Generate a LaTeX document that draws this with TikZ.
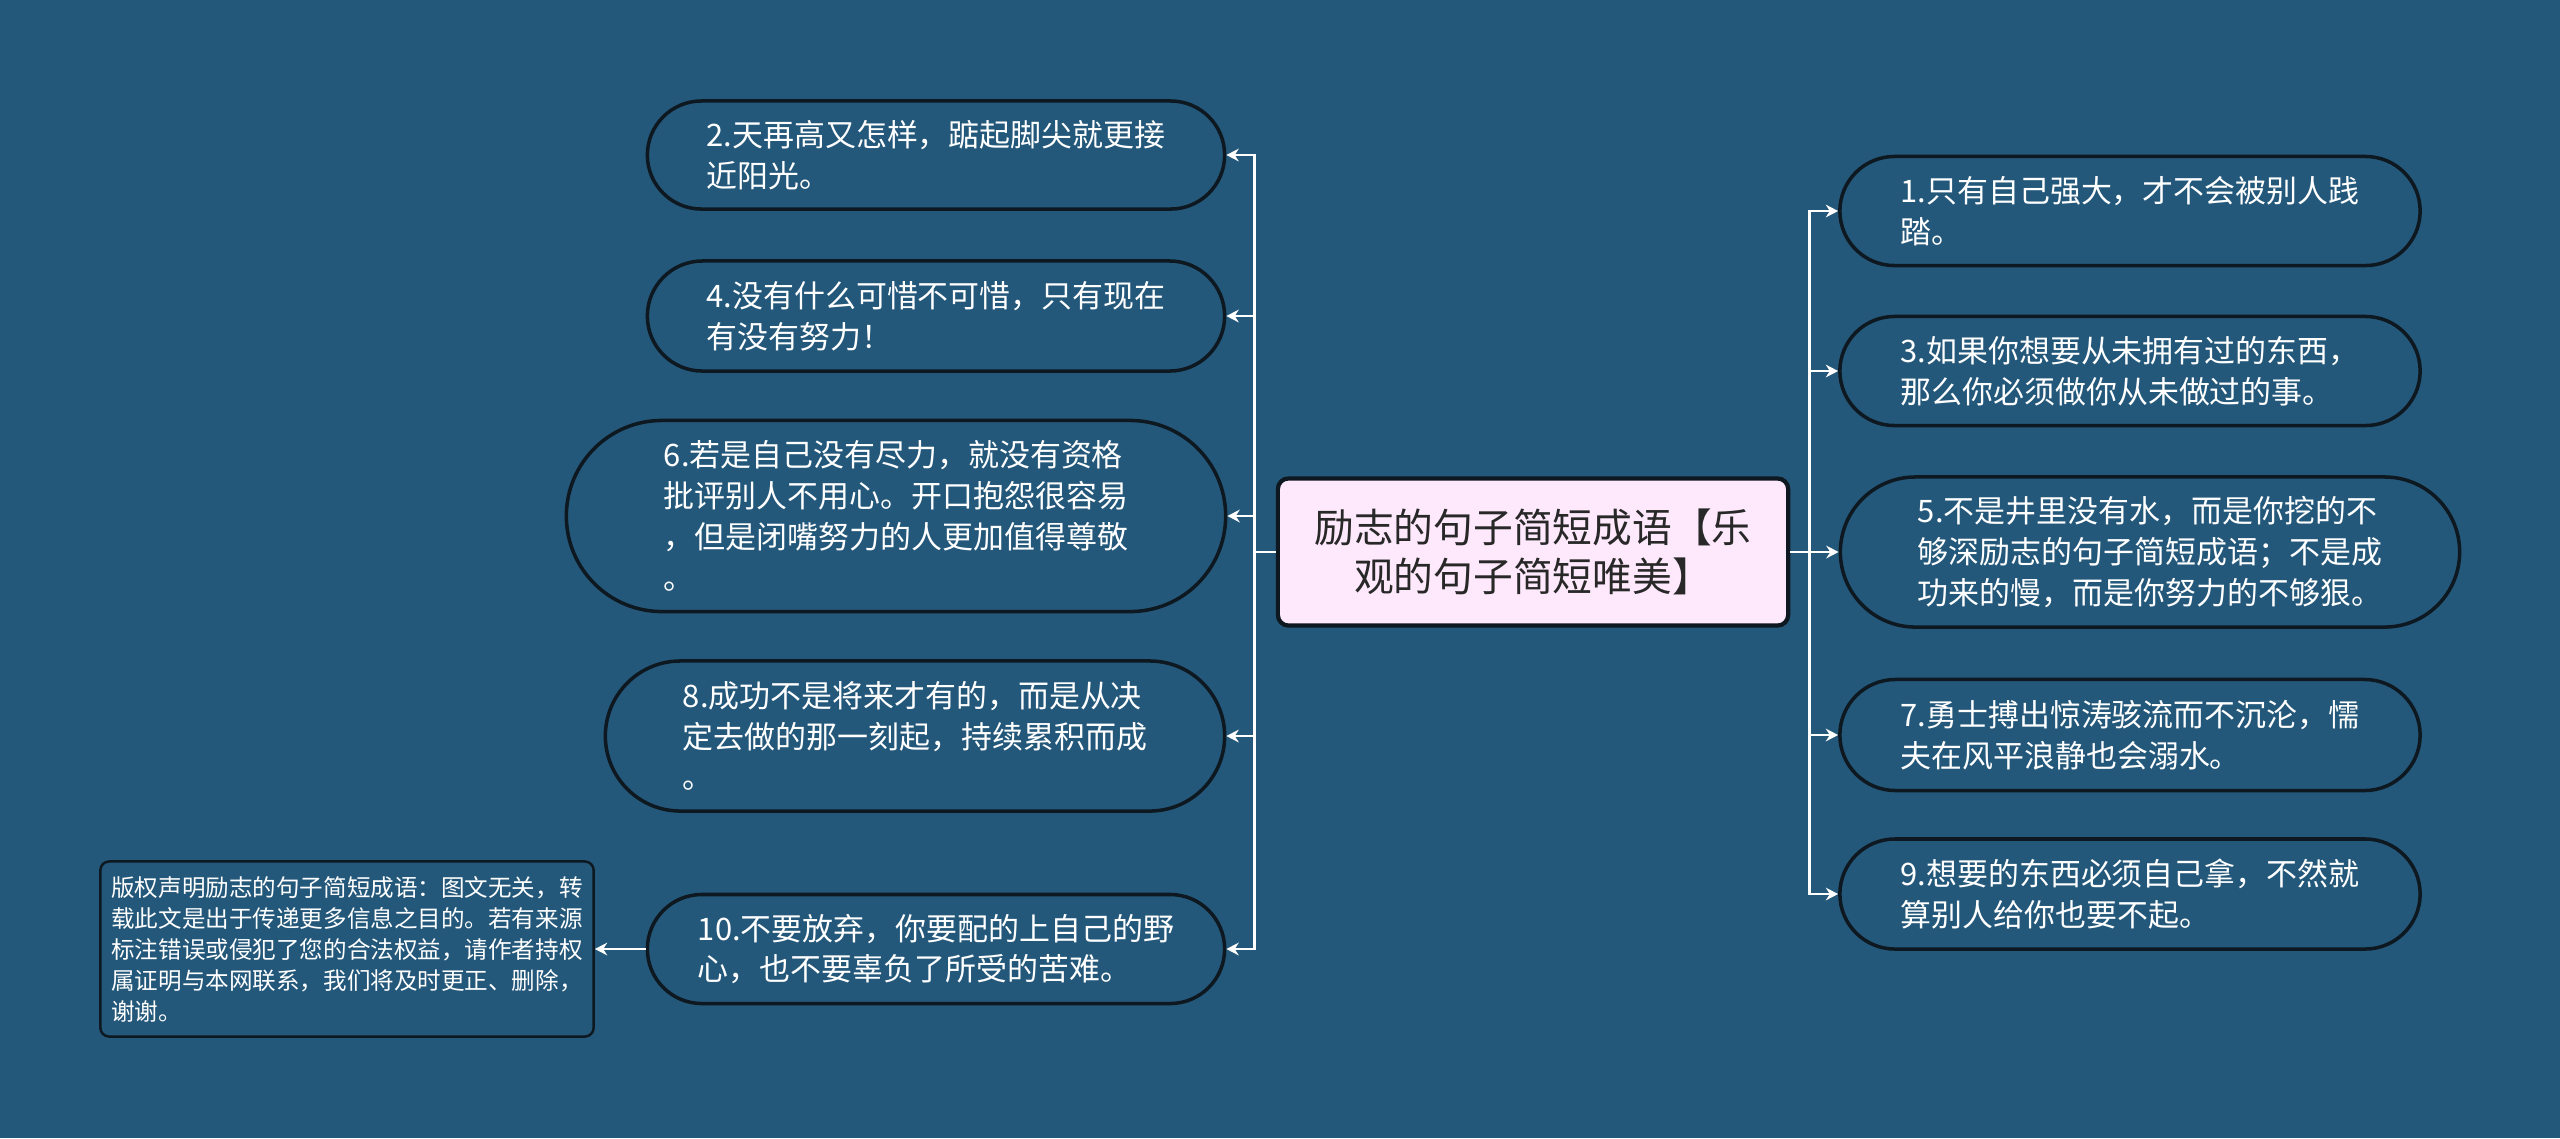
\documentclass[tikz,border=0pt]{standalone}
\usepackage{fontspec}
\setmainfont{Noto Sans CJK SC}
\usepackage{xcolor}
\usetikzlibrary{shapes.misc, arrows.meta, positioning}

\definecolor{bgblue}{RGB}{36,88,122}
\definecolor{edgeline}{RGB}{14,24,32}
\definecolor{rootpink}{RGB}{253,233,251}
\definecolor{roottext}{RGB}{40,40,40}

\begin{document}
\begin{tikzpicture}[
    x=0.01cm, y=-0.01cm,
    leafbox/.style={rounded rectangle, draw=edgeline, line width=1pt, fill=bgblue,
                    text=white, align=left, inner sep=2pt,
                    font=\fontsize{8.8}{11.6}\selectfont},
    rootbox/.style={draw=edgeline, line width=1.2pt, rounded corners=3pt, fill=rootpink,
                    text=roottext, align=center, inner sep=2pt,
                    font=\fontsize{11.3}{13.9}\selectfont},
    notebox/.style={draw=edgeline, line width=0.7pt, rounded corners=2.5pt, fill=bgblue,
                    text=white, align=left, inner sep=2pt,
                    font=\fontsize{6.7}{8.8}\selectfont},
    arr/.style={-{Stealth[length=3.5pt, width=3.6pt]}, white, line width=0.75pt},
]
\useasboundingbox (0,0) rectangle (2560,1138);
\fill[bgblue] (0,0) rectangle (2560,1138);

% root
\node[rootbox, minimum width=5.10cm, minimum height=1.47cm] (root) at (1533,552)
    {励志的句子简短成语【乐\\观的句子简短唯美】};

% left branch
\node[leafbox, minimum width=5.91cm, minimum height=1.08cm] (l2) at (936,155)
    {2.天再高又怎样，踮起脚尖就更接\\近阳光。};
\node[leafbox, minimum width=5.91cm, minimum height=1.10cm] (l4) at (936,316)
    {4.没有什么可惜不可惜，只有现在\\有没有努力！};
\node[leafbox, minimum width=6.73cm, minimum height=1.91cm] (l6) at (896,516)
    {6.若是自己没有尽力，就没有资格\\批评别人不用心。开口抱怨很容易\\，但是闭嘴努力的人更加值得尊敬\\。};
\node[leafbox, minimum width=6.33cm, minimum height=1.50cm] (l8) at (915,736)
    {8.成功不是将来才有的，而是从决\\定去做的那一刻起，持续累积而成\\。};
\node[leafbox, minimum width=5.91cm, minimum height=1.09cm] (l10) at (936,949)
    {10.不要放弃，你要配的上自己的野\\心，也不要辜负了所受的苦难。};

\node[notebox, minimum width=4.93cm, minimum height=1.75cm] (note) at (347,949)
    {版权声明励志的句子简短成语：图文无关，转\\载此文是出于传递更多信息之目的。若有来源\\标注错误或侵犯了您的合法权益，请作者持权\\属证明与本网联系，我们将及时更正、删除，\\谢谢。};

% right branch
\node[leafbox, minimum width=5.94cm, minimum height=1.09cm] (r1) at (2130,211)
    {1.只有自己强大，才不会被别人践\\踏。};
\node[leafbox, minimum width=5.94cm, minimum height=1.09cm] (r3) at (2130,371)
    {3.如果你想要从未拥有过的东西，\\那么你必须做你从未做过的事。};
\node[leafbox, minimum width=6.33cm, minimum height=1.50cm] (r5) at (2150,552)
    {5.不是井里没有水，而是你挖的不\\够深励志的句子简短成语；不是成\\功来的慢，而是你努力的不够狠。};
\node[leafbox, minimum width=5.94cm, minimum height=1.11cm] (r7) at (2130,735)
    {7.勇士搏出惊涛骇流而不沉沦，懦\\夫在风平浪静也会溺水。};
\node[leafbox, minimum width=5.94cm, minimum height=1.10cm] (r9) at (2130,894)
    {9.想要的东西必须自己拿，不然就\\算别人给你也要不起。};

\foreach \leaf in {l2,l4,l6,l8,l10}
    \draw[arr] (root.west) -- ++(-21,0) |- (\leaf.east);
\foreach \leaf in {r1,r3,r5,r7,r9}
    \draw[arr] (root.east) -- ++(19,0) |- (\leaf.west);
\draw[arr] (l10.west) -- (note.east);
\end{tikzpicture}
\end{document}
